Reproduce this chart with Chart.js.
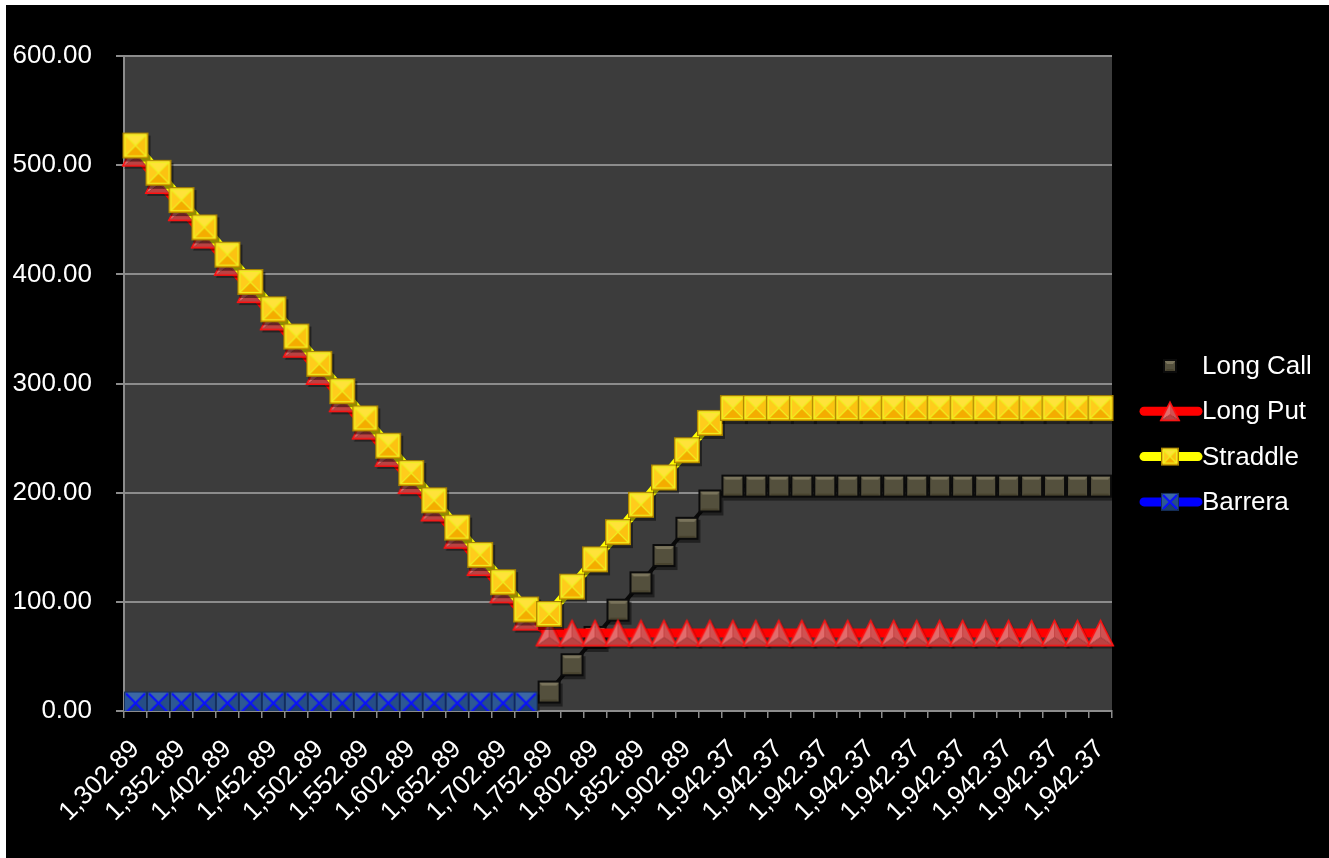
<!DOCTYPE html>
<html>
<head>
<meta charset="utf-8">
<title>Long Call / Long Put / Straddle / Barrera</title>
<script src="https://cdn.jsdelivr.net/npm/chart.js@4.4.0/dist/chart.umd.min.js"></script>
<style>
  html, body { margin: 0; padding: 0; background: #fff; }
  #wrap { position: absolute; left: 6px; top: 5px; width: 1323px; height: 853px; background: #000; }
</style>
</head>
<body>
<div id="wrap"><canvas id="payoff" width="1323" height="853"></canvas></div>
<script>
// underlying prices (x categories)
const precios = [
  '1,302.89', '1,327.89', '1,352.89', '1,377.89', '1,402.89', '1,427.89', '1,452.89', '1,477.89',
  '1,502.89', '1,527.89', '1,552.89', '1,577.89', '1,602.89', '1,627.89', '1,652.89', '1,677.89',
  '1,702.89', '1,727.89', '1,752.89', '1,777.89', '1,802.89', '1,827.89', '1,852.89', '1,877.89',
  '1,902.89', '1,927.89', '1,942.37', '1,942.37', '1,942.37', '1,942.37', '1,942.37', '1,942.37',
  '1,942.37', '1,942.37', '1,942.37', '1,942.37', '1,942.37', '1,942.37', '1,942.37', '1,942.37',
  '1,942.37', '1,942.37', '1,942.37'
];

const longCall = [
  null, null, null, null, null, null, null, null, null, null, null, null, null, null, null, null,
  null, null, 17.4, 42.4, 67.4, 92.4, 117.4, 142.4, 167.4, 192.4, 206, 206, 206, 206, 206, 206,
  206, 206, 206, 206, 206, 206, 206, 206, 206, 206, 206
];

const longPut = [
  511, 486, 461, 436, 411, 386, 361, 336, 311, 286, 261, 236, 211, 186, 161, 136,
  111, 86, 71.5, 71.5, 71.5, 71.5, 71.5, 71.5, 71.5, 71.5, 71.5, 71.5, 71.5, 71.5, 71.5, 71.5,
  71.5, 71.5, 71.5, 71.5, 71.5, 71.5, 71.5, 71.5, 71.5, 71.5, 71.5
];

const straddle = [
  518, 493, 468, 443, 418, 393, 368, 343, 318, 293, 268, 243, 218, 193, 168, 143,
  118, 93, 88.9, 113.9, 138.9, 163.9, 188.9, 213.9, 238.9, 263.9, 277.5, 277.5, 277.5, 277.5, 277.5, 277.5,
  277.5, 277.5, 277.5, 277.5, 277.5, 277.5, 277.5, 277.5, 277.5, 277.5, 277.5
];

const barrera = [
  7.3, 7.3, 7.3, 7.3, 7.3, 7.3, 7.3, 7.3, 7.3, 7.3, 7.3, 7.3, 7.3, 7.3, 7.3, 7.3,
  7.3, 7.3, null, null, null, null, null, null, null, null, null, null, null, null, null, null,
  null, null, null, null, null, null, null, null, null, null, null
];

const nombres = ['Long Call', 'Long Put', 'Straddle', 'Barrera'];

const FONT = 'Arial, "Liberation Sans", sans-serif';

// --- bevelled marker images (Excel 2007 look) ---
function poly(g, pts, col) {
  g.beginPath();
  g.moveTo(pts[0][0], pts[0][1]);
  for (let i = 1; i < pts.length; i++) g.lineTo(pts[i][0], pts[i][1]);
  g.closePath();
  g.fillStyle = col;
  g.fill();
}

function marker(kind, s, shadow) {
  const pad = 4;
  const c = document.createElement('canvas');
  c.width = c.height = s + pad * 2;
  const g = c.getContext('2d');
  g.translate(pad, pad);
  const h = s / 2;
  if (shadow) {
    g.fillStyle = 'rgba(0,0,0,0.45)';
    if (kind == 'put') poly(g, [[h + 2, 2], [s + 2, s + 2], [2, s + 2]], 'rgba(0,0,0,0.4)');
    else g.fillRect(2, 3, s, s);
  }
  if (kind == 'call') {
    // flat face with a lighter top bevel
    g.fillStyle = '#54503d';
    g.fillRect(0, 0, s, s);
    poly(g, [[0, 0], [s, 0], [s - 4, 5], [4, 5]], '#7a745c');
    poly(g, [[0, s], [s, s], [s - 4, s - 4], [4, s - 4]], '#48432f');
    g.lineWidth = 2;
    g.strokeStyle = '#0b0b0b';
    g.strokeRect(1, 1, s - 2, s - 2);
  } else if (kind == 'straddle') {
    poly(g, [[0, 0], [s, 0], [h, h]], '#ffe23a');
    poly(g, [[s, 0], [s, s], [h, h]], '#fcc211');
    poly(g, [[0, s], [s, s], [h, h]], '#f4ac00');
    poly(g, [[0, 0], [0, s], [h, h]], '#ffcc1c');
    g.strokeStyle = '#f0ee20';
    g.lineWidth = 1.2;
    g.beginPath();
    g.moveTo(2, 2); g.lineTo(s - 2, s - 2);
    g.moveTo(s - 2, 2); g.lineTo(2, s - 2);
    g.stroke();
    g.strokeRect(2.5, 2.5, s - 5, s - 5);
    g.lineWidth = 1.2;
    g.strokeStyle = '#a68300';
    g.strokeRect(0.6, 0.6, s - 1.2, s - 1.2);
  } else if (kind == 'put') {
    const cy = s * 0.66;
    poly(g, [[h, 0], [0, s], [h, cy]], '#e26c6c');
    poly(g, [[h, 0], [s, s], [h, cy]], '#cf5252');
    poly(g, [[0, s], [s, s], [h, cy]], '#bb4242');
    g.lineWidth = 1.6;
    g.strokeStyle = '#ff1010';
    g.beginPath();
    g.moveTo(h, 1); g.lineTo(s - 0.8, s - 0.8); g.lineTo(0.8, s - 0.8); g.closePath();
    g.stroke();
  } else if (kind == 'barrera') {
    poly(g, [[0, 0], [s, 0], [h, h]], '#3b67a5');
    poly(g, [[s, 0], [s, s], [h, h]], '#264d86');
    poly(g, [[0, s], [s, s], [h, h]], '#1d3e6e');
    poly(g, [[0, 0], [0, s], [h, h]], '#2d5894');
    g.strokeStyle = '#0a10ff';
    g.lineWidth = 2;
    g.beginPath();
    g.moveTo(2, 2); g.lineTo(s - 2, s - 2);
    g.moveTo(s - 2, 2); g.lineTo(2, s - 2);
    g.stroke();
    g.lineWidth = 1;
    g.strokeStyle = '#16305c';
    g.strokeRect(0.5, 0.5, s - 1, s - 1);
  }
  return c;
}

const mkCall = marker('call', 23, true);
const mkPut = marker('put', 27, true);
const mkStraddle = marker('straddle', 26, true);
const mkBarrera = marker('barrera', 23, true);
const legendMarks = [marker('call', 14, false), marker('put', 20, false), marker('straddle', 18, false), marker('barrera', 18, false)];
const legendLines = [false, true, true, true];

const plotBg = {
  id: 'plotBg',
  beforeDraw(chart) {
    const ctx = chart.ctx, a = chart.chartArea;
    ctx.save();
    ctx.fillStyle = '#000';
    ctx.fillRect(0, 0, chart.width, chart.height);
    ctx.fillStyle = '#3c3c3c';
    ctx.fillRect(a.left, a.top, a.right - a.left, a.bottom - a.top);
    ctx.restore();
  }
};

const sideLegend = {
  id: 'sideLegend',
  afterDraw(chart) {
    const ctx = chart.ctx, a = chart.chartArea;
    ctx.save();
    ctx.font = '26px ' + FONT;
    ctx.textBaseline = 'middle';
    chart.data.datasets.forEach((ds, i) => {
      const y = a.top + 310 + i * 45.3;
      if (legendLines[i]) {
        ctx.strokeStyle = ds.borderColor;
        ctx.lineWidth = 9;
        ctx.lineCap = 'round';
        ctx.beginPath();
        ctx.moveTo(a.right + 32, y);
        ctx.lineTo(a.right + 86, y);
        ctx.stroke();
      }
      const m = legendMarks[i];
      ctx.drawImage(m, a.right + 58 - m.width / 2, y - m.height / 2);
      ctx.fillStyle = '#fff';
      ctx.fillText(ds.label, a.right + 90, y + 1);
    });
    ctx.restore();
  }
};

new Chart('payoff', {
  type: 'line',
  data: {
    labels: precios,
    datasets: [
      { label: nombres[0], data: longCall, order: 4, borderColor: 'rgba(0,0,0,0.85)', borderWidth: 4,
        pointStyle: mkCall, pointRadius: 12 },
      { label: nombres[1], data: longPut, order: 3, borderColor: '#ff0000', borderWidth: 9,
        pointStyle: mkPut, pointRadius: 13 },
      { label: nombres[2], data: straddle, order: 2, borderColor: '#ffff00', borderWidth: 9,
        pointStyle: mkStraddle, pointRadius: 13 },
      { label: nombres[3], data: barrera, order: 1, borderColor: '#0000ff', borderWidth: 9,
        pointStyle: mkBarrera, pointRadius: 12 }
    ]
  },
  options: {
    responsive: false,
    animation: false,
    layout: { padding: { top: 51, right: 217, bottom: 0, left: 0 } },
    plugins: { legend: { display: false }, tooltip: { enabled: false } },
    scales: {
      x: {
        offset: true,
        afterFit: (s) => { s.height = 147; },
        grid: { offset: true, drawOnChartArea: false, drawTicks: true, tickLength: 7, color: '#8c8c8c', lineWidth: 1.5 },
        border: { color: '#8c8c8c', width: 2 },
        ticks: {
          autoSkip: false, minRotation: 45, maxRotation: 45, padding: 16,
          color: '#fff', font: { family: FONT, size: 26 },
          callback: function (v, i) { return i % 2 === 0 ? this.getLabelForValue(v) : ''; }
        }
      },
      y: {
        min: 0, max: 600,
        afterFit: (s) => { s.width = 118; },
        grid: { color: '#8c8c8c', lineWidth: 2, tickLength: 8, drawTicks: true },
        border: { color: '#8c8c8c', width: 2 },
        ticks: {
          stepSize: 100, padding: 24, color: '#fff', font: { family: FONT, size: 26 },
          callback: (v) => v.toFixed(2)
        }
      }
    }
  },
  plugins: [plotBg, sideLegend]
});
</script>
</body>
</html>
